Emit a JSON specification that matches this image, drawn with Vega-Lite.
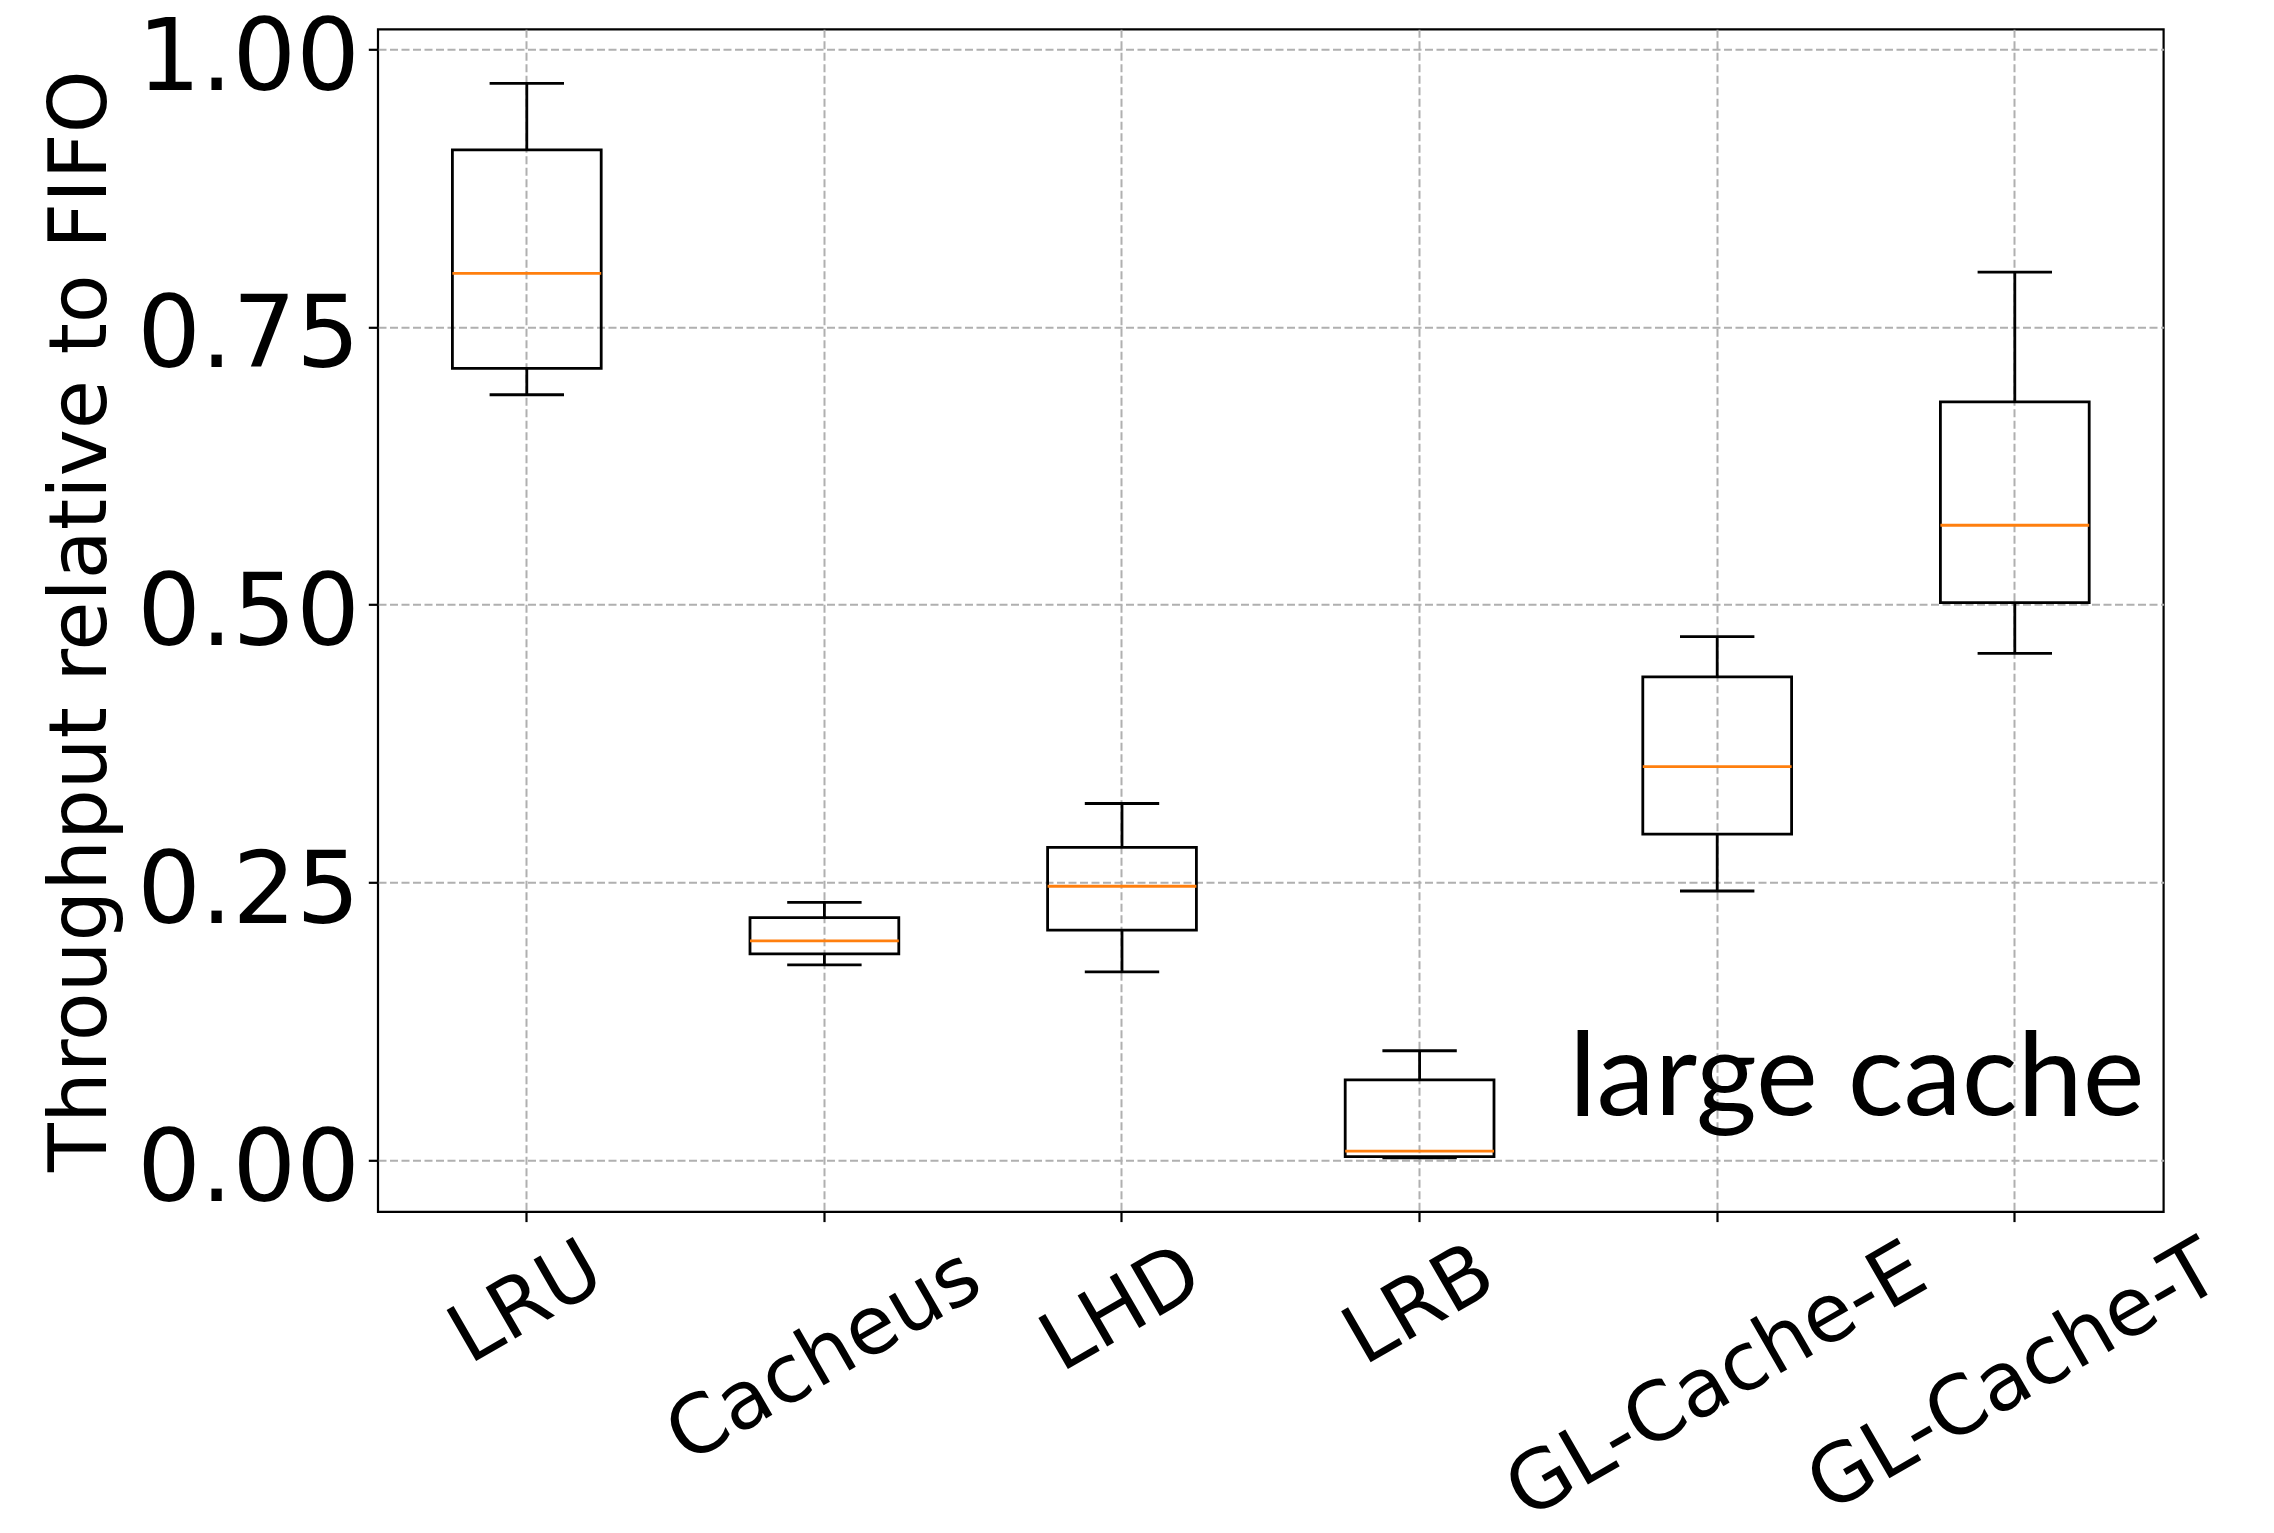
{
  "$schema": "https://vega.github.io/schema/vega-lite/v6.json",
  "width": 1785.6,
  "height": 1182.6,
  "autosize": {"type": "none"},
  "padding": {"left": 378, "top": 29.3, "right": 110.4, "bottom": 321.1},
  "background": "white",
  "config": {
    "view": {"stroke": "black", "strokeWidth": 2.2},
    "axis": {
      "grid": true,
      "gridColor": "#b0b0b0",
      "gridDash": [8, 3.5],
      "gridWidth": 2,
      "domain": false,
      "tickColor": "black",
      "tickWidth": 2.2,
      "tickSize": 9.7,
      "labelColor": "black",
      "labelFont": "DejaVu Sans",
      "titleFont": "DejaVu Sans",
      "titleColor": "black",
      "titleFontWeight": "normal"
    },
    "axisY": {
      "labelFontSize": 100,
      "labelPadding": 9,
      "labelLimit": 0,
      "labelOffset": 10,
      "titleFontSize": 80,
      "titlePadding": 56
    }
  },
  "data": {
    "values": [
      {"name": "LRU", "lower": 0.689, "q1": 0.7128, "median": 0.7983, "q3": 0.9094, "upper": 0.9694},
      {"name": "Cacheus", "lower": 0.1757, "q1": 0.1856, "median": 0.1973, "q3": 0.2182, "upper": 0.2319},
      {"name": "LHD", "lower": 0.1694, "q1": 0.207, "median": 0.2465, "q3": 0.2815, "upper": 0.321},
      {"name": "LRB", "lower": 0.002, "q1": 0.003, "median": 0.008, "q3": 0.0721, "upper": 0.0984},
      {"name": "GL-Cache-E", "lower": 0.2422, "q1": 0.2934, "median": 0.3541, "q3": 0.435, "upper": 0.4712},
      {"name": "GL-Cache-T", "lower": 0.4561, "q1": 0.5018, "median": 0.5715, "q3": 0.6826, "upper": 0.7993}
    ]
  },
  "encoding": {
    "x": {
      "field": "name",
      "type": "nominal",
      "sort": null,
      "scale": {"type": "band", "paddingInner": 0, "paddingOuter": 0},
      "axis": {
        "title": null,
        "labelAngle": -30,
        "labelAlign": "center",
        "labelBaseline": "middle",
        "labelFontSize": 81,
        "labelLimit": 0,
        "labelOverlap": false,
        "labelPadding": {"expr": "datum.value == 'LRU' ? 82 : datum.value == 'Cacheus' ? 135 : datum.value == 'LHD' ? 88 : datum.value == 'LRB' ? 84 : datum.value == 'GL-Cache-E' ? 160 : 156"}
      }
    }
  },
  "layer": [
    {
      "mark": {"type": "rule", "color": "black", "strokeWidth": 2.8},
      "encoding": {
        "y": {"field": "lower", "type": "quantitative", "title": "Throughput relative to FIFO",
              "scale": {"domain": [-0.0467, 1.018], "nice": false, "zero": false},
              "axis": {"values": [0, 0.25, 0.5, 0.75, 1], "format": ".2f"}},
        "y2": {"field": "q1"}
      }
    },
    {
      "mark": {"type": "rule", "color": "black", "strokeWidth": 2.8},
      "encoding": {
        "y": {"field": "q3", "type": "quantitative", "title": "Throughput relative to FIFO",
              "axis": {"values": [0, 0.25, 0.5, 0.75, 1], "format": ".2f"}},
        "y2": {"field": "upper"}
      }
    },
    {
      "mark": {"type": "tick", "orient": "horizontal", "color": "black", "size": 74.4, "thickness": 2.8, "opacity": 1},
      "encoding": {
        "y": {"field": "lower", "type": "quantitative", "title": "Throughput relative to FIFO",
              "axis": {"values": [0, 0.25, 0.5, 0.75, 1], "format": ".2f"}}
      }
    },
    {
      "mark": {"type": "tick", "orient": "horizontal", "color": "black", "size": 74.4, "thickness": 2.8, "opacity": 1},
      "encoding": {
        "y": {"field": "upper", "type": "quantitative", "title": "Throughput relative to FIFO",
              "axis": {"values": [0, 0.25, 0.5, 0.75, 1], "format": ".2f"}}
      }
    },
    {
      "mark": {"type": "bar", "filled": false, "strokeWidth": 2.8, "width": {"band": 0.5}},
      "encoding": {
        "y": {"field": "q1", "type": "quantitative", "title": "Throughput relative to FIFO",
              "axis": {"values": [0, 0.25, 0.5, 0.75, 1], "format": ".2f"}},
        "y2": {"field": "q3"},
        "stroke": {
          "datum": "large cache",
          "scale": {"range": ["black"]},
          "legend": {
            "title": null,
            "orient": "none",
            "legendX": 1074,
            "legendY": 992,
            "padding": 0,
            "labelFont": "Lato",
            "labelFontSize": 117,
            "labelColor": "black",
            "labelLimit": 0,
            "labelOffset": 0,
            "symbolOpacity": 0,
            "symbolSize": 0,
            "symbolStrokeWidth": 0
          }
        }
      }
    },
    {
      "mark": {"type": "tick", "orient": "horizontal", "color": "#ff7f0e", "size": 148.8, "thickness": 2.8, "opacity": 1},
      "encoding": {
        "y": {"field": "median", "type": "quantitative", "title": "Throughput relative to FIFO",
              "axis": {"values": [0, 0.25, 0.5, 0.75, 1], "format": ".2f"}}
      }
    }
  ]
}
